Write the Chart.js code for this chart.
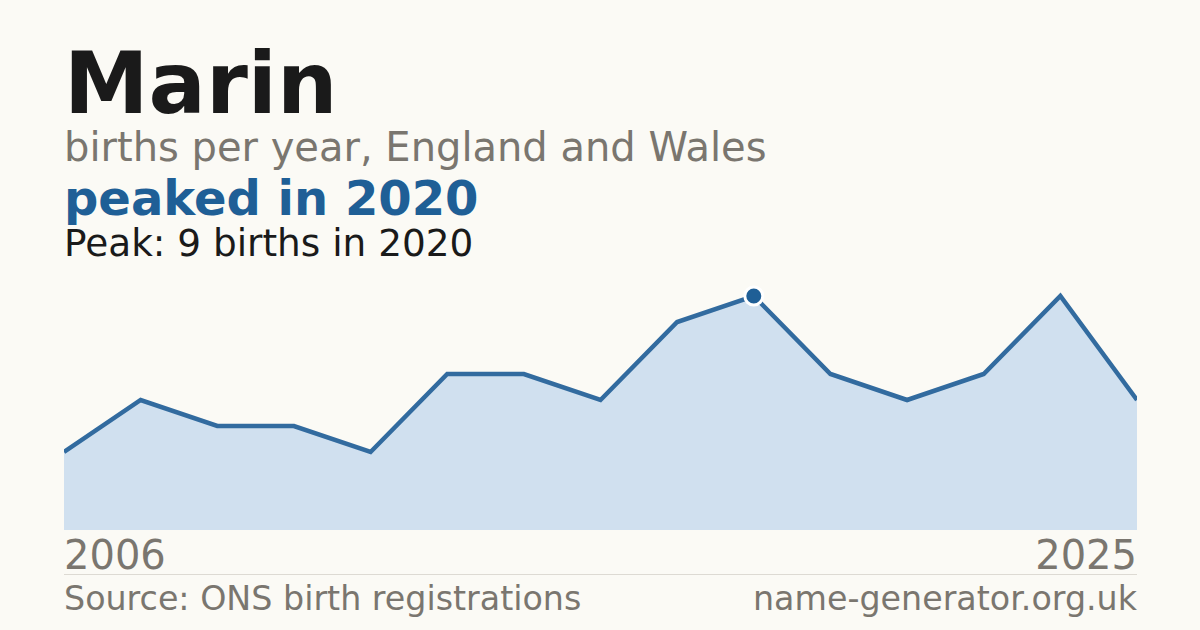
<!DOCTYPE html>
<html lang="en">
<head>
    <meta charset="UTF-8">
    <title>Marin - births per year</title>
    <script src="https://cdn.jsdelivr.net/npm/chart.js"></script>
    <style>
        html, body {
            margin: 0;
            padding: 0;
            width: 1200px;
            height: 630px;
            background: #fbfaf5;
            font-family: "DejaVu Sans", sans-serif;
            overflow: hidden;
        }
        .txt {
            position: absolute;
            line-height: 1;
            white-space: nowrap;
        }
        #title { left: 64px; top: 41px; font-size: 85px; font-weight: bold; color: #1a1a1a; }
        #sub { left: 64px; top: 127px; font-size: 40px; color: #7a766f; }
        #headline { left: 64px; top: 174px; font-size: 48px; font-weight: bold; color: #1f5f96; }
        #peak { left: 64px; top: 225px; font-size: 37.4px; color: #1a1a1a; }
        #first { left: 64px; top: 535px; font-size: 40px; color: #7a766f; }
        #last { right: 63px; top: 535px; font-size: 40px; color: #7a766f; }
        #rule {
            position: absolute;
            left: 64px;
            width: 1073px;
            top: 574px;
            height: 1px;
            background: #dddad3;
        }
        #source { left: 64px; top: 582px; font-size: 33.3px; color: #7a766f; }
        #site { right: 63px; top: 582px; font-size: 33.3px; color: #7a766f; }
        #chartBox {
            position: absolute;
            left: 64px;
            top: 270px;
            width: 1073px;
            height: 260px;
        }
    </style>
</head>
<body>
    <div id="title" class="txt">Marin</div>
    <div id="sub" class="txt">births per year, England and Wales</div>
    <div id="headline" class="txt">peaked in 2020</div>
    <div id="peak" class="txt">Peak: 9 births in 2020</div>

    <div id="chartBox">
        <canvas id="chart"></canvas>
    </div>

    <div id="first" class="txt">2006</div>
    <div id="last" class="txt">2025</div>
    <div id="rule"></div>
    <div id="source" class="txt">Source: ONS birth registrations</div>
    <div id="site" class="txt">name-generator.org.uk</div>

    <script>
        // years with published counts (gaps are suppressed years)
        const years = ['2006', '2008', '2010', '2011', '2013', '2014', '2016', '2018', '2019',
                       '2020', '2021', '2022', '2023', '2024', '2025'];
        const births = [3, 5, 4, 4, 3, 6, 6, 5, 8, 9, 6, 5, 6, 9, 5];
        const peakYear = '2020';

        const peakIndex = years.indexOf(peakYear);
        const pointRadius = births.map((v, i) => i === peakIndex ? 9 : 0);

        new Chart(document.getElementById('chart').getContext('2d'), {
            type: 'line',
            data: {
                labels: years,
                datasets: [{
                    data: births,
                    borderColor: '#326b9f',
                    borderWidth: 4.5,
                    backgroundColor: '#d0e0ef',
                    fill: 'origin',
                    tension: 0,
                    pointRadius: pointRadius,
                    pointHoverRadius: pointRadius,
                    pointBackgroundColor: '#1f5f96',
                    pointBorderColor: '#ffffff',
                    pointBorderWidth: 3,
                    clip: false
                }]
            },
            options: {
                responsive: true,
                maintainAspectRatio: false,
                animation: false,
                layout: { padding: 0 },
                plugins: {
                    legend: { display: false },
                    tooltip: { enabled: false }
                },
                scales: {
                    x: { display: false, offset: false },
                    y: { display: false, min: 0, max: 10 }
                }
            }
        });
    </script>
</body>
</html>
